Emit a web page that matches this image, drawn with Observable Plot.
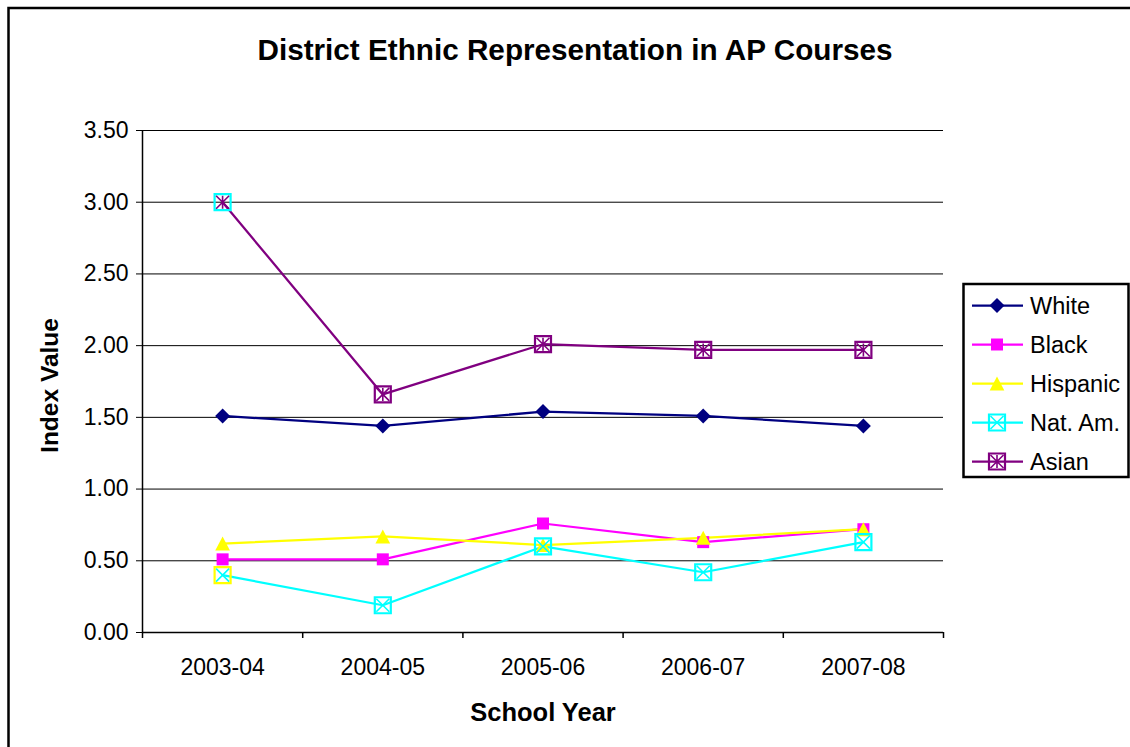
<!DOCTYPE html>
<html><head><meta charset="utf-8">
<script src="https://cdn.jsdelivr.net/npm/d3@7"></script>
<script src="https://cdn.jsdelivr.net/npm/@observablehq/plot@0.6"></script>
<style>
body{margin:0;background:#fff;overflow:hidden}
#chart{position:relative;width:1130px;height:747px}
</style>
</head><body><div id="chart"></div>
<script>
// ---- data ----
const years = ["2003-04", "2004-05", "2005-06", "2006-07", "2007-08"];
const seriesNames = ["White", "Black", "Hispanic", "Nat. Am.", "Asian"];
const white    = [1.51, 1.44, 1.54, 1.51, 1.44];
const black    = [0.51, 0.51, 0.76, 0.63, 0.72];
const hispanic = [0.62, 0.67, 0.61, 0.66, 0.72];
const natAm    = [0.40, 0.19, 0.60, 0.42, 0.63];
const asian    = [3.00, 1.66, 2.01, 1.97, 1.97];
const yTicks   = [0, 0.5, 1, 1.5, 2, 2.5, 3, 3.5];
const titleText = "District Ethnic Representation in AP Courses";
const xTitle = "School Year";
const yTitle = "Index Value";

const values = [white, black, hispanic, natAm, asian];
const rows = [];
seriesNames.forEach((s, k) => values[k].forEach((v, i) => rows.push({series: s, i, year: years[i], value: v})));

// ---- styles ----
const colors = {"White": "#000080", "Black": "#FF00FF", "Hispanic": "#FFFF00", "Nat. Am.": "#00FFFF", "Asian": "#800080"};
const R = s => Math.sqrt(s / Math.PI);
const sym = {
  diamond: {draw(c, s) { const r = R(s); c.moveTo(0, -r); c.lineTo(r, 0); c.lineTo(0, r); c.lineTo(-r, 0); c.closePath(); }},
  square: {draw(c, s) { const r = R(s); c.rect(-r, -r, 2 * r, 2 * r); }},
  triangle: {draw(c, s) { const r = R(s); c.moveTo(0, -r); c.lineTo(r * 1.05, r); c.lineTo(-r * 1.05, r); c.closePath(); }},
  box: {draw(c, s) { const r = R(s); c.rect(-r, -r, 2 * r, 2 * r); }},
  cross: {draw(c, s) { const r = R(s); c.moveTo(-r, -r); c.lineTo(r, r); c.moveTo(r, -r); c.lineTo(-r, r); }},
  star: {draw(c, s) { const r = R(s); c.moveTo(-r, -r); c.lineTo(r, r); c.moveTo(r, -r); c.lineTo(-r, r); c.moveTo(0, -r); c.lineTo(0, r); }}
};
// first-point border quirk seen in the reference
const firstBorder = {"Nat. Am.": "#FFFF00", "Asian": "#00FFFF"};
const markerSpec = {
  "White":    [{symbol: sym.diamond, r: 7.5, fill: true}],
  "Black":    [{symbol: sym.square, r: 6, fill: true}],
  "Hispanic": [{symbol: sym.triangle, r: 7, fill: true}],
  "Nat. Am.": [{symbol: sym.box, r: 8, sw: 2.2, border: true}, {symbol: sym.cross, r: 6.5, sw: 1.6}],
  "Asian":    [{symbol: sym.box, r: 8, sw: 2.2, border: true}, {symbol: sym.star, r: 6.5, sw: 1.6}]
};

const FONT = "'Liberation Sans', Arial, sans-serif";
const xPos = d => years.indexOf(d.year);

const marks = [
  Plot.gridY(yTicks, {stroke: "#000", strokeOpacity: 1, strokeWidth: 1}),
  Plot.ruleX([-0.5], {stroke: "#000", strokeWidth: 1.5}),
  Plot.ruleY([0], {stroke: "#000", strokeWidth: 1.5}),
  Plot.axisY({ticks: yTicks, tickFormat: d3.format(".2f"), tickSize: 6, tickPadding: 8, fontSize: 23, label: null, stroke: "#000"}),
  Plot.axisX({ticks: d3.range(-0.5, years.length, 1), tickSize: 6, tickFormat: () => "", label: null, stroke: "#000", strokeWidth: 1.5}),
  Plot.axisX({ticks: d3.range(years.length), tickSize: 0, tickPadding: 26, tickFormat: i => years[i], fontSize: 23, label: null})
];
seriesNames.forEach(s => {
  marks.push(Plot.line(rows.filter(d => d.series === s), {x: xPos, y: "value", stroke: colors[s], strokeWidth: 2.25}));
});
seriesNames.forEach(s => {
  const data = rows.filter(d => d.series === s);
  markerSpec[s].forEach(m => {
    if (m.fill) {
      marks.push(Plot.dot(data, {x: xPos, y: "value", symbol: m.symbol, r: m.r, fill: colors[s], stroke: "none"}));
    } else {
      marks.push(Plot.dot(data, {x: xPos, y: "value", symbol: m.symbol, r: m.r, fill: "none",
        stroke: m.border ? (d => (d.i === 0 && firstBorder[s]) ? firstBorder[s] : colors[s]) : colors[s],
        strokeWidth: m.sw}));
    }
  });
});
marks.push(
  Plot.text([titleText], {frameAnchor: "top", dx: 32, dy: -80, fontSize: 29.7, fontWeight: "bold", textAnchor: "middle", lineAnchor: "middle", fill: "#000"}),
  Plot.text([xTitle], {frameAnchor: "bottom", dx: 0, dy: 80, fontSize: 25.5, fontWeight: "bold", textAnchor: "middle", lineAnchor: "middle", fill: "#000"}),
  Plot.text([yTitle], {frameAnchor: "left", dx: -92, dy: 4, rotate: -90, fontSize: 24.5, fontWeight: "bold", textAnchor: "middle", lineAnchor: "middle", fill: "#000"})
);

const chart = Plot.plot({
  width: 1130, height: 747,
  marginLeft: 142, marginRight: 187, marginTop: 130, marginBottom: 115,
  style: {fontFamily: FONT, background: "#fff", color: "#000", overflow: "visible"},
  x: {type: "linear", domain: [-0.5, years.length - 0.5]},
  y: {domain: [0, 3.5]},
  stroke: {type: "identity"},
  marks
});
document.getElementById("chart").appendChild(chart);

// ---- outer border & legend ----
const svg = d3.select(chart);
svg.append("path").attr("d", "M8.5,760V8H1140").attr("fill", "none").attr("stroke", "#000").attr("stroke-width", 2.5);
const lg = svg.append("g").attr("font-family", FONT).attr("text-anchor", "start");
lg.append("rect").attr("x", 963.5).attr("y", 284).attr("width", 165).attr("height", 193)
  .attr("fill", "#fff").attr("stroke", "#000").attr("stroke-width", 2.5);
seriesNames.forEach((s, k) => {
  const y = 305.5 + k * 39;
  const g = lg.append("g");
  g.append("line").attr("x1", 972).attr("x2", 1023).attr("y1", y).attr("y2", y).attr("stroke", colors[s]).attr("stroke-width", 2.25);
  markerSpec[s].forEach(m => {
    const p = g.append("path").attr("transform", `translate(997,${y})`)
      .attr("d", d3.symbol(m.symbol, m.r * m.r * Math.PI)());
    if (m.fill) p.attr("fill", colors[s]);
    else p.attr("fill", "none").attr("stroke", colors[s]).attr("stroke-width", m.sw);
  });
  g.append("text").attr("x", 1030).attr("y", y).attr("dy", "0.35em").attr("text-anchor", "start")
    .attr("font-size", 23.5).attr("fill", "#000").text(s);
});
</script>
</body></html>
